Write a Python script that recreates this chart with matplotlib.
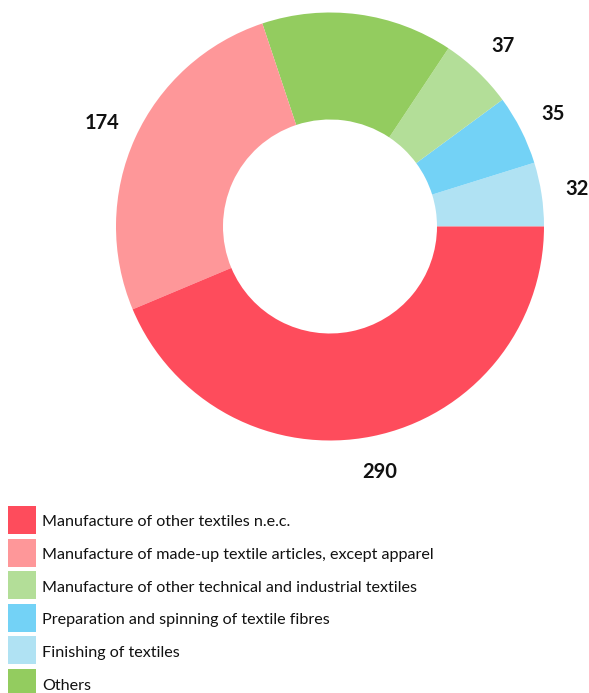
import matplotlib
matplotlib.use("Agg")
import matplotlib.pyplot as plt
from matplotlib.patches import Rectangle

# data (counter-clockwise from 3 o'clock)
categories = [
    "Finishing of textiles",
    "Preparation and spinning of textile fibres",
    "Manufacture of other technical and industrial textiles",
    "Others",
    "Manufacture of made-up textile articles, except apparel",
    "Manufacture of other textiles n.e.c.",
]
values = [32, 35, 37, 96, 174, 290]
show_label = [True, True, True, False, True, True]
colors = ["#b0e2f3", "#73d2f6", "#b3de98", "#93cc5f", "#fe9799", "#fe4c5c"]

# legend order as in the reference
legend_order = [5, 4, 2, 1, 0, 3]

W, H = 589, 693
fig = plt.figure(figsize=(W / 100, H / 100), dpi=100)
plt.rcParams["font.family"] = ["Lato", "DejaVu Sans"]

# donut, centre at (330, 226.5) px, radius 214 px
cx, cy, R = 330, 226.5, 214
ax = fig.add_axes([0, 0, 1, 1])
wedges, texts = ax.pie(values, colors=colors, startangle=0, counterclock=True,
                       radius=1, wedgeprops=dict(width=0.5, linewidth=0),
                       labels=[str(v) if s else "" for v, s in zip(values, show_label)],
                       labeldistance=1.168,
                       textprops=dict(fontsize=14.5, fontweight="bold", color="#111111"))
for t in texts:
    t.set_ha("center")
    t.set_va("center")
ax.set_xlim(-cx / R, (W - cx) / R)
ax.set_ylim(-(H - cy) / R, cy / R)
ax.axis("off")

# legend drawn in pixel coords
lg = fig.add_axes([0, 0, 1, 1])
lg.set_xlim(0, W)
lg.set_ylim(H, 0)
lg.axis("off")
y0, step = 506, 32.6
for i, k in enumerate(legend_order):
    y = y0 + i * step
    lg.add_patch(Rectangle((8, y), 28, 28, facecolor=colors[k], edgecolor="none"))
    lg.text(42, y + 16.5, categories[k], fontsize=11.6, color="#111111", va="center", ha="left")

fig.savefig("out.png", dpi=100)
